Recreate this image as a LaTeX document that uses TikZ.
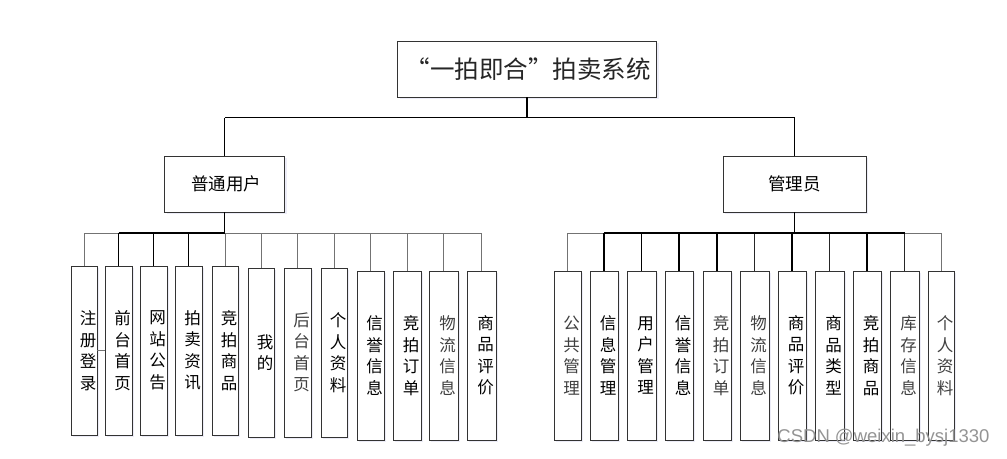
\documentclass[tikz,border=0pt]{standalone}
\usepackage{fontspec}
\setmainfont{Noto Sans CJK SC}
\setsansfont{Liberation Sans}
\usetikzlibrary{shadows}
\begin{document}
\begin{tikzpicture}[x=1pt,y=-1pt,
  shadowed/.style={drop shadow={opacity=0.10, shadow xshift=2pt, shadow yshift=-2pt, fill=blue!40!gray}},
  box/.style={draw=black!80, line width=0.8pt, fill=white, inner sep=0pt, shadowed},
  cbox/.style={box, minimum height=169pt},
  ctext/.style={font=\fontsize{16.5}{21.5}\selectfont, align=center, inner sep=0pt},
  tline/.style={line width=1.8pt, black},
  mline/.style={line width=1.2pt, black!85},
  gline/.style={line width=0.9pt, black!55}]
\useasboundingbox (0,0) rectangle (1007,458);
\fill[white] (0,0) rectangle (1007,458);

% top level
\node[box, minimum width=259pt, minimum height=56pt] (title) at (527,69) {};
\node[font=\fontsize{24.5}{24.5}\selectfont, text=black!85, inner sep=0pt] (titletext) at ([xshift=1pt]title.center) {“一拍即合”拍卖系统};
\node[box, minimum width=120pt, minimum height=56pt] (user) at (224.5,184) {};
\node[font=\fontsize{17.5}{17.5}\selectfont, inner sep=0pt] (usertext) at ([xshift=1.5pt]user.center) {普通用户};
\node[box, minimum width=143pt, minimum height=56pt] (admin) at (794.5,184) {};
\node[font=\fontsize{17.5}{17.5}\selectfont, inner sep=0pt] (admintext) at (admin.center) {管理员};

% left children
\foreach \n/\x/\y/\w/\t/\c in {
  1/84/350.5/26/{注\\册\\登\\录}/black,
  2/118.5/350.5/27/{前\\台\\首\\页}/black,
  3/153.5/350.5/27/{网\\站\\公\\告}/black,
  4/188.5/350.5/27/{拍\\卖\\资\\讯}/black,
  5/225/350.5/26/{竞\\拍\\商\\品}/black,
  6/261/352.5/26/{我\\的}/black,
  7/297.5/352.5/27/{后\\台\\首\\页}/black!75,
  8/334/352.5/26/{个\\人\\资\\料}/black,
  9/370.5/355.5/27/{信\\誉\\信\\息}/black,
  10/407/355.5/28/{竞\\拍\\订\\单}/black,
  11/443.5/355.5/29/{物\\流\\信\\息}/black!75,
  12/481.5/355.5/29/{商\\品\\评\\价}/black}{
  \node[cbox, minimum width=\w pt] (l\n) at (\x,\y) {};
  \node[ctext, text=\c] (lt\n) at ([xshift=4pt]l\n.center) {\t};
}

% right children
\foreach \n/\x/\w/\t/\c in {
  1/567.5/27/{公\\共\\管\\理}/black!75,
  2/604/28/{信\\息\\管\\理}/black,
  3/641.5/29/{用\\户\\管\\理}/black,
  4/679/28/{信\\誉\\信\\息}/black,
  5/717/28/{竞\\拍\\订\\单}/black!75,
  6/754.5/29/{物\\流\\信\\息}/black!75,
  7/792/28/{商\\品\\评\\价}/black,
  8/829.5/29/{商\\品\\类\\型}/black,
  9/867/28/{竞\\拍\\商\\品}/black,
  10/904.5/29/{库\\存\\信\\息}/black!75,
  11/941/26/{个\\人\\资\\料}/black!75}{
  \node[cbox, minimum width=\w pt] (r\n) at (\x,355.5) {};
  \node[ctext, text=\c] (rt\n) at ([xshift=4pt]r\n.center) {\t};
}

% top connectors
\coordinate (tbus) at (0,117.5);
\draw[line width=1.6pt] (title.south) -- (title.south |- tbus);
\draw[tline] (user.north |- tbus) -- (admin.north |- tbus);
\draw[tline] (user.north) -- (user.north |- tbus);
\draw[tline] (admin.north) -- (admin.north |- tbus);

% left bus
\coordinate (lbus) at (0,233);
\draw[gline] (l1.north |- lbus) -- (l12.north |- lbus);
\foreach \n in {1,5,6,7,8,9,10,11,12}{
  \draw[gline] (l\n.north) -- (l\n.north |- lbus);
}
\foreach \n in {2,3,4}{
  \draw[tline] (l\n.north) -- (l\n.north |- lbus);
}
\draw[tline] (l2.north |- lbus) -- (user.south |- lbus);
\draw[tline] (user.south) -- (user.south |- lbus);
\draw[gline] (l1.east) -- (l2.west);

% right bus
\coordinate (rbus) at (0,233);
\draw[gline] (r1.north |- rbus) -- (r11.north |- rbus);
\foreach \n in {1,11}{
  \draw[gline] (r\n.north) -- (r\n.north |- rbus);
}
\foreach \n in {6,8,10}{
  \draw[mline] (r\n.north) -- (r\n.north |- rbus);
}
\foreach \n in {2,3,4,5,7,9}{
  \draw[tline] (r\n.north) -- (r\n.north |- rbus);
}
\draw[tline] (r2.north |- rbus) -- (r10.north |- rbus);
\draw[tline] (admin.south) -- (admin.south |- rbus);

% watermark
\node[font=\sffamily\fontsize{18.5}{18.5}\selectfont, text=black!42, inner sep=0pt] (wm) at (883.5,438) {CSDN @weixin\_bysj1330};
\end{tikzpicture}
\end{document}
